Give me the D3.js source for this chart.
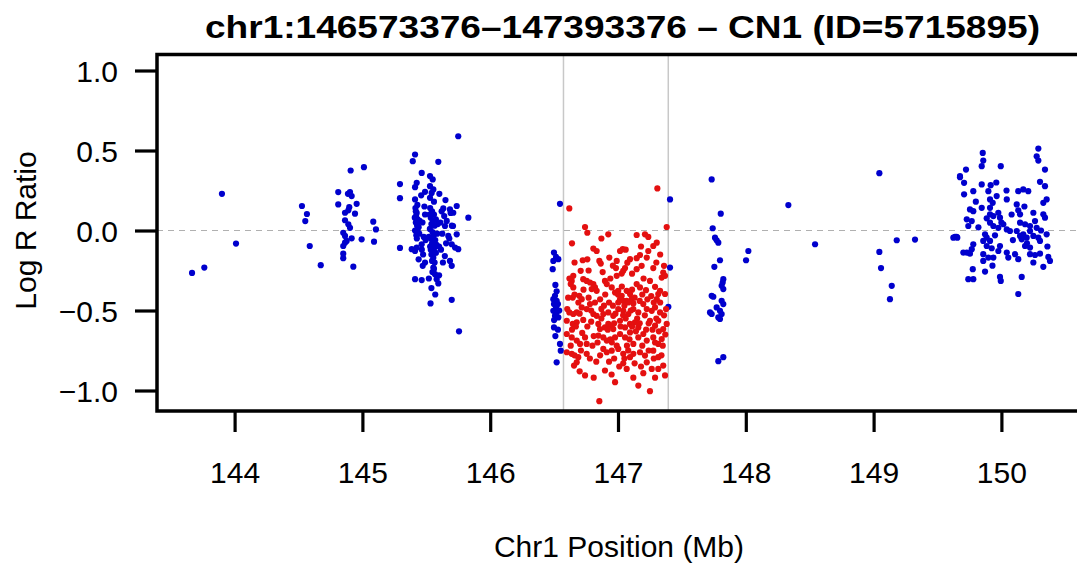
<!DOCTYPE html>
<html><head><meta charset="utf-8">
<script src="https://cdn.jsdelivr.net/npm/d3@7"></script>
<style>body{margin:0;background:#fff;overflow:hidden}text{font-family:"Liberation Sans",Arial,Helvetica,sans-serif}</style>
</head><body><svg id="c" width="1077" height="570"></svg>
<script>
const title = "chr1:146573376\u2013147393376 \u2013 CN1 (ID=5715895)";
const xLabel = "Chr1 Position (Mb)";
const yLabel = "Log R Ratio";
const xTicks = [144,145,146,147,148,149,150];
const yTicks = [1.0,0.5,0.0,-0.5,-1.0];
const cnvStart = 146.573376, cnvEnd = 147.393376;

// blue (outside CNV call) points: [position Mb, log R ratio]
const flankPoints = [
[143.667,-0.265],[143.763,-0.232],[143.901,0.229],[144.011,-0.082],[144.527,0.153],[144.566,0.103],[144.553,0.059],[144.588,-0.097],[144.674,-0.217],
[144.908,0.375],[145.012,0.396],[144.811,0.240],[144.903,0.240],[144.916,0.215],[144.887,0.229],[144.811,0.163],[144.955,0.167],[144.897,0.146],[144.864,0.111],[144.890,0.126],[144.942,0.105],[144.864,0.064],[144.890,0.039],[144.903,0.017],[145.085,0.055],[145.106,0.007],[144.850,-0.014],[144.864,-0.034],[144.916,-0.049],[144.877,-0.065],[144.850,-0.097],[144.864,-0.076],[144.994,-0.055],[145.091,-0.070],[144.850,-0.145],[144.850,-0.173],[144.929,-0.226],
[145.294,0.290],[145.294,0.202],[145.294,-0.109],[145.750,0.589],[145.412,0.475],[145.394,0.433],[145.594,0.429],[145.464,0.360],[145.529,0.340],[145.550,0.319],[145.425,0.298],[145.412,0.271],[145.529,0.277],[145.555,0.257],[145.490,0.242],[145.542,0.235],[145.602,0.229],[145.412,0.194],[145.529,0.204],[145.633,0.138],[145.685,0.132],[145.738,0.153],[145.711,0.111],[145.829,0.080],[145.646,0.028],[145.709,0.028],[145.738,-0.024],[145.672,-0.034],[145.386,-0.117],[145.425,-0.107],[145.464,-0.086],[145.412,-0.128],[145.699,-0.086],[145.725,-0.107],[145.750,-0.117],[145.685,-0.190],[145.699,-0.221],[145.472,-0.221],[145.412,-0.304],[145.464,-0.310],[145.555,-0.232],[145.568,-0.273],[145.581,-0.304],[145.594,-0.331],[145.533,-0.456],[145.699,-0.433],[145.756,-0.630],
[145.415,0.14],[145.425,0.11],[145.420,0.09],[145.432,0.07],[145.418,0.05],[145.428,0.03],[145.440,0.02],[145.412,0.00],[145.435,-0.01],[145.422,-0.03],[145.445,-0.02],[145.418,0.12],[145.430,0.16],[145.426,-0.05],[145.448,0.06],[145.410,0.08],
[145.530,0.14],[145.545,0.12],[145.560,0.10],[145.535,0.08],[145.552,0.06],[145.540,0.04],[145.565,0.03],[145.528,0.01],[145.548,-0.01],[145.558,-0.03],[145.535,-0.05],[145.570,-0.06],[145.545,-0.08],[145.530,-0.10],[145.562,-0.11],[145.550,-0.13],[145.540,-0.15],[145.575,-0.14],[145.555,-0.17],[145.545,-0.19],[145.565,-0.20],[145.535,-0.12],[145.580,-0.09],[145.520,-0.04],[145.575,0.07],[145.585,-0.02],[145.525,0.10],[145.590,0.04],[145.560,-0.24],[145.548,-0.26],
[145.470,0.05],[145.480,-0.04],[145.465,-0.12],[145.490,0.10],[145.475,-0.15],[145.495,-0.06],[145.485,0.15],
[145.610,0.05],[145.625,-0.02],[145.640,0.09],[145.655,-0.08],[145.620,0.12],[145.660,0.06],[145.680,-0.05],[145.700,0.03],[145.615,-0.12],[145.645,-0.16],[145.690,0.11],[145.630,-0.20],
[145.54,-0.36],[145.57,-0.40],[145.60,-0.28],[145.52,-0.30],[145.49,-0.20],[145.44,-0.18],[145.60,-0.10],[145.65,0.19],[145.56,0.18],[145.46,0.22],
[146.546,0.167],[146.499,-0.138],[146.515,-0.165],[146.533,-0.179],[146.494,-0.190],[146.489,-0.242],[146.507,-0.408],[146.494,-0.429],[146.520,-0.439],[146.499,-0.460],[146.515,-0.481],[146.494,-0.502],[146.520,-0.512],[146.507,-0.533],[146.533,-0.543],[146.499,-0.606],[146.546,-0.709],[146.552,-0.751],[146.520,-0.824],
[146.51,-0.34],[146.53,-0.46],[146.50,-0.56],[146.52,-0.38],[146.54,-0.50],[146.51,-0.66],[146.53,-0.62],
[147.407,0.194],[147.407,-0.232],[147.394,-0.477],
[147.733,0.319],[147.804,0.105],[148.333,0.159],[147.741,0.014],[147.759,-0.045],[147.772,-0.061],[147.785,-0.076],[148.020,-0.128],[148.002,-0.186],[147.798,-0.186],[147.754,-0.227],[147.824,-0.304],[147.819,-0.325],[147.811,-0.346],[147.824,-0.366],[147.733,-0.408],[147.746,-0.414],[147.811,-0.439],[147.824,-0.460],[147.772,-0.481],[147.798,-0.502],[147.811,-0.522],[147.733,-0.522],[147.785,-0.543],[147.798,-0.553],[147.720,-0.512],[147.824,-0.792],[147.785,-0.817],
[149.045,0.358],[148.542,-0.086],[149.181,-0.061],[149.324,-0.057],[149.045,-0.134],[149.058,-0.235],[149.142,-0.346],[149.128,-0.429],[149.624,-0.045],[149.650,-0.040],[149.676,0.333],
[150.289,0.512],[150.276,0.464],[150.289,0.437],[149.854,0.485],[149.858,0.437],[149.846,0.402],[149.995,0.402],[149.723,0.381],[149.676,0.340],[149.708,0.298],[150.341,0.381],[150.302,0.304],[150.341,0.277],[149.846,0.288],[149.916,0.283],[149.898,0.246],[149.780,0.246],[149.708,0.226],[150.132,0.246],[150.171,0.257],[150.210,0.246],[149.963,0.215],[150.042,0.194],[149.911,0.194],[149.932,0.173],[150.354,0.194],[150.328,0.173],[149.754,0.132],[149.780,0.121],[149.846,0.142],[149.911,0.142],[150.120,0.163],[150.132,0.126],[150.146,0.101],[150.250,0.111],[150.328,0.101],[150.341,0.080],[149.729,0.070],[149.768,0.059],[149.741,0.028],[149.885,0.076],[149.911,0.101],[149.937,0.090],[149.976,0.111],[149.989,0.080],[149.911,0.049],[149.937,0.028],[149.976,0.017],[150.015,0.039],[150.042,0.007],[150.067,-0.003],[150.146,0.049],[150.185,0.039],[150.224,0.028],[150.263,0.059],[150.276,0.017],[149.637,-0.040],[149.655,-0.045],[149.872,-0.024],[149.885,-0.045],[149.858,-0.065],[149.911,-0.065],[150.120,-0.003],[150.146,-0.034],[150.171,-0.024],[150.198,-0.045],[150.159,-0.055],[150.224,-0.003],[150.250,-0.034],[150.289,-0.045],[150.302,-0.065],[150.354,-0.024],[149.780,-0.086],[149.768,-0.117],[149.729,-0.138],[149.702,-0.138],[149.754,-0.145],[149.885,-0.097],[149.924,-0.111],[149.989,-0.097],[149.976,-0.128],[150.185,-0.097],[150.224,-0.107],[149.858,-0.148],[149.898,-0.169],[149.858,-0.190],[149.937,-0.169],[150.042,-0.138],[150.054,-0.169],[150.107,-0.148],[150.132,-0.179],[150.224,-0.148],[150.263,-0.153],[150.302,-0.145],[150.367,-0.165],[150.380,-0.190],[150.328,-0.227],[149.776,-0.242],[149.741,-0.304],[149.780,-0.304],[149.872,-0.257],[149.989,-0.290],[149.995,-0.315],[150.159,-0.290],[150.132,-0.397],
[149.82,0.02],[149.95,-0.03],[150.00,0.05],[150.08,0.10],[150.20,-0.08],[150.31,0.00],[150.09,-0.06],[149.80,0.18],[150.18,0.15],[150.36,-0.10],[149.93,-0.22],[150.25,-0.20],[150.04,0.25],[149.96,0.30]
];

// red (inside CN1 call) points: [position Mb, log R ratio]
const cnvPoints = [
[147.308,0.263],[146.619,0.138],[146.742,0.022],[146.760,-0.014],[146.924,-0.024],[147.146,-0.028],[147.211,-0.024],[147.237,-0.040],[147.381,0.022],[147.303,-0.076],[147.276,-0.097],[146.807,-0.113],[146.833,-0.128],[147.016,-0.128],[147.037,-0.117],[147.172,-0.153],[147.146,-0.173],[147.237,-0.128],[147.225,-0.169],[146.724,-0.186],[146.854,-0.190],[146.865,-0.207],[146.932,-0.169],[146.990,-0.190],[147.094,-0.179],[147.073,-0.201],[147.055,-0.235],[146.984,-0.235],[147.185,-0.221],[147.146,-0.242],[147.276,-0.235],[147.360,-0.221],[147.354,-0.263],[147.342,-0.294],[147.368,-0.283],[146.708,-0.252],[146.650,-0.283],[146.638,-0.315],[146.630,-0.335],[146.650,-0.356],[146.646,-0.419],[146.728,-0.304],[146.755,-0.315],[146.781,-0.325],[146.807,-0.335],[146.820,-0.356],[146.794,-0.366],[146.833,-0.377],[146.697,-0.408],[146.716,-0.429],[146.898,-0.315],[146.912,-0.335],[146.990,-0.283],[147.029,-0.269],[147.041,-0.252],[146.951,-0.356],[146.977,-0.388],[147.002,-0.377],[147.029,-0.408],[147.016,-0.429],[147.041,-0.439],[147.002,-0.450],[147.068,-0.377],[147.094,-0.397],[147.107,-0.429],[147.068,-0.439],[147.120,-0.456],[147.146,-0.335],[147.172,-0.356],[147.219,-0.373],[147.250,-0.315],[147.290,-0.352],[147.315,-0.397],[147.303,-0.429],[147.368,-0.397],[147.329,-0.377],
[146.603,-0.491],[146.619,-0.512],[146.650,-0.522],[146.677,-0.512],[146.716,-0.481],[146.755,-0.491],[146.781,-0.460],[146.807,-0.522],[146.833,-0.533],[146.885,-0.522],[146.924,-0.512],[146.963,-0.533],[147.002,-0.491],[147.041,-0.502],[147.081,-0.522],[147.120,-0.491],[147.159,-0.512],[147.198,-0.460],[147.225,-0.491],[147.264,-0.502],[147.290,-0.481],[147.329,-0.512],[147.376,-0.491],[146.599,-0.564],[146.646,-0.584],[146.677,-0.574],[146.728,-0.559],[146.846,-0.584],[146.859,-0.616],[146.898,-0.606],[146.924,-0.584],[146.951,-0.595],[146.963,-0.616],[147.016,-0.564],[147.055,-0.606],[147.094,-0.584],[147.133,-0.574],[147.159,-0.606],[147.250,-0.564],[147.290,-0.595],[147.315,-0.564],[147.354,-0.616],[147.381,-0.584],[146.599,-0.647],[146.638,-0.668],[146.677,-0.688],[146.703,-0.709],[146.742,-0.668],[146.755,-0.709],[146.846,-0.657],[146.885,-0.668],[146.912,-0.688],[146.951,-0.699],[146.977,-0.668],[147.016,-0.647],[147.055,-0.668],[147.094,-0.637],[147.120,-0.709],[147.159,-0.668],[147.198,-0.647],[147.225,-0.688],[147.276,-0.668],[147.315,-0.709],[147.342,-0.678],
[146.599,-0.761],[146.638,-0.771],[146.689,-0.792],[146.755,-0.771],[146.677,-0.824],[146.656,-0.844],[146.885,-0.740],[146.912,-0.761],[146.951,-0.751],[147.002,-0.740],[147.041,-0.771],[147.094,-0.792],[147.120,-0.771],[147.172,-0.761],[147.211,-0.782],[147.276,-0.751],[147.315,-0.792],[147.041,-0.830],[147.068,-0.865],[147.225,-0.824],[147.264,-0.865],[147.315,-0.865],[147.354,-0.844],[146.742,-0.906],[146.898,-0.875],[147.198,-0.892],[147.368,-0.906],[146.977,-0.948],[147.159,-0.969],[147.250,-1.004],[146.854,-1.067],
[146.62,-0.30],[146.66,-0.40],[146.69,-0.45],[146.73,-0.37],[146.77,-0.42],[146.79,-0.50],[146.82,-0.45],[146.86,-0.43],[146.87,-0.49],[146.90,-0.40],[146.93,-0.45],[146.94,-0.30],[146.96,-0.47],[146.98,-0.52],[147.00,-0.40],[147.03,-0.35],[147.05,-0.47],[147.06,-0.55],[147.08,-0.45],[147.10,-0.50],[147.11,-0.37],[147.13,-0.42],[147.15,-0.55],[147.17,-0.44],[147.19,-0.40],[147.21,-0.53],[147.23,-0.43],[147.26,-0.41],[147.28,-0.45],[147.30,-0.55],[147.33,-0.45],[147.36,-0.53],
[146.61,-0.42],[146.64,-0.62],[146.67,-0.60],[146.70,-0.52],[146.72,-0.64],[146.76,-0.60],[146.79,-0.57],[146.81,-0.66],[146.84,-0.70],[146.87,-0.55],[146.89,-0.47],[146.92,-0.62],[146.94,-0.68],[146.97,-0.58],[146.99,-0.72],[147.02,-0.60],[147.04,-0.53],[147.07,-0.72],[147.09,-0.68],[147.11,-0.60],[147.14,-0.63],[147.17,-0.58],[147.19,-0.72],[147.22,-0.62],[147.24,-0.58],[147.27,-0.62],[147.29,-0.70],[147.32,-0.63],[147.35,-0.72],[147.37,-0.65],
[146.63,-0.72],[146.66,-0.78],[146.71,-0.75],[146.78,-0.80],[146.80,-0.72],[146.83,-0.82],[146.86,-0.78],[146.93,-0.82],[146.97,-0.80],[147.01,-0.85],[147.05,-0.80],[147.08,-0.75],[147.13,-0.83],[147.18,-0.85],[147.24,-0.75],[147.28,-0.80],[147.34,-0.78],[146.70,-0.88],[146.81,-0.92],[146.95,-0.90],[147.12,-0.92],[147.29,-0.92],
[146.66,-0.20],[146.77,-0.25],[146.88,-0.26],[146.96,-0.22],[147.11,-0.27],[147.20,-0.30],[147.30,-0.20],[146.64,-0.08],[146.87,-0.05],[147.06,-0.12],[147.33,-0.15],[146.76,-0.18],[147.18,-0.10]
];

const W = 1077, H = 570;
const L = 157, R = 1085, T = 54.5, B = 411;
const x = d3.scaleLinear().domain([147 - (618 - L) / 127.8, 147 + (R - 618) / 127.8]).range([L, R]);
const y = d3.scaleLinear().domain([-(B - 230.5) / 160, (230.5 - T) / 160]).range([B, T]);

const svg = d3.select("#c");
const font = '"Liberation Sans",Arial,Helvetica,sans-serif';

// CNV boundary lines
svg.selectAll("line.cnv").data([cnvStart, cnvEnd]).enter().append("line")
  .attr("x1", d => x(d)).attr("x2", d => x(d)).attr("y1", T).attr("y2", B)
  .attr("stroke", "#c8c8c8").attr("stroke-width", 1.5);
// zero line
svg.append("line").attr("x1", L).attr("x2", R).attr("y1", y(0)).attr("y2", y(0))
  .attr("stroke", "#b0b0b0").attr("stroke-width", 1).attr("stroke-dasharray", "6,5");

svg.append("g").selectAll("circle").data(flankPoints).enter().append("circle")
  .attr("cx", d => x(d[0])).attr("cy", d => y(d[1])).attr("r", 3.1).attr("fill", "#0000cd");
svg.append("g").selectAll("circle").data(cnvPoints).enter().append("circle")
  .attr("cx", d => x(d[0])).attr("cy", d => y(d[1])).attr("r", 3.1).attr("fill", "#e41010");

// axes
const xAxis = d3.axisBottom(x).tickValues(xTicks).tickSize(21).tickPadding(30).tickFormat(d3.format("d"));
const gx = svg.append("g").attr("transform", `translate(0,${B})`).call(xAxis);
const yAxis = d3.axisLeft(y).tickValues(yTicks).tickSize(22).tickPadding(17).tickFormat(d => d3.format(".1f")(d).replace("-", "\u2212"));
const gy = svg.append("g").attr("transform", `translate(${L},0)`).call(yAxis);
[gx, gy].forEach(g => {
  g.select(".domain").remove();
  g.selectAll(".tick line").attr("stroke", "#000").attr("stroke-width", 3.2);
  g.selectAll(".tick text").attr("font-size", 30).attr("font-family", font).attr("fill", "#000");
});
gy.selectAll(".tick text").attr("dy", "0.36em");

// box
svg.append("rect").attr("x", L).attr("y", T).attr("width", R - L).attr("height", B - T)
  .attr("fill", "none").attr("stroke", "#000").attr("stroke-width", 3.5);

svg.append("text").attr("x", 205).attr("y", 38)
  .attr("font-size", 32).attr("font-weight", "bold")
  .attr("textLength", 835).attr("lengthAdjust", "spacingAndGlyphs").text(title);
svg.append("text").attr("x", 619).attr("y", 557).attr("text-anchor", "middle")
  .attr("font-size", 30).text(xLabel);
svg.append("text").attr("transform", `translate(36,${y(0)}) rotate(-90)`).attr("text-anchor", "middle")
  .attr("font-size", 30).text(yLabel);
</script></body></html>
